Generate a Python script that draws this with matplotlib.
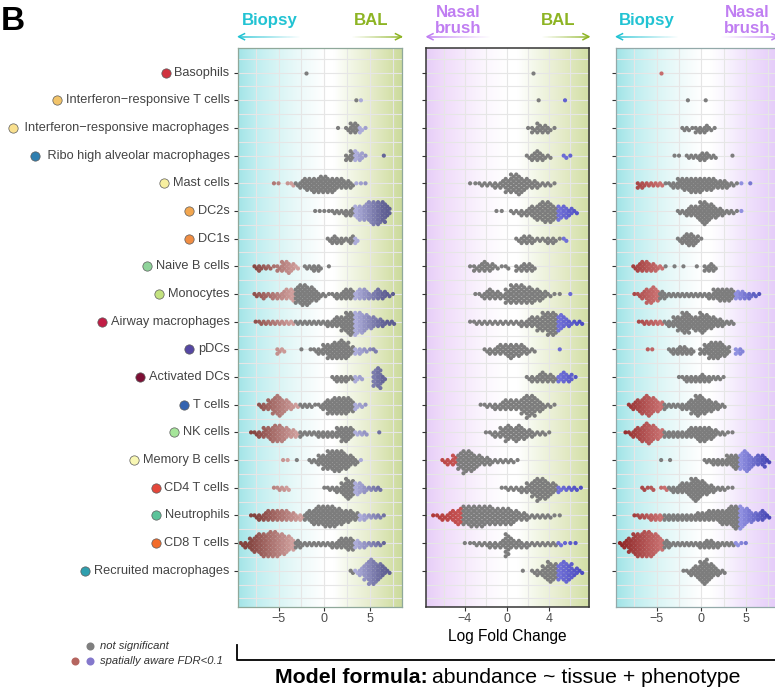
import matplotlib
matplotlib.use("Agg")
import matplotlib.pyplot as plt
import numpy as np
from matplotlib.collections import LineCollection
from matplotlib.lines import Line2D
from matplotlib.transforms import Affine2D, blended_transform_factory
from matplotlib.colors import to_rgb

plt.rcParams['font.family'] = ['Liberation Sans', 'DejaVu Sans']

W, H = 775, 688
BIN = 0.5  # width of a logFC bin; counts below are neighbourhoods per bin

cell_types = [
    "Basophils", "Interferon\u2212responsive T cells", " Interferon\u2212responsive macrophages",
    " Ribo high alveolar macrophages", "Mast cells", "DC2s", "DC1s", "Naive B cells",
    "Monocytes", "Airway macrophages", "pDCs", "Activated DCs", "T cells", "NK cells",
    "Memory B cells", "CD4 T cells", "Neutrophils", "CD8 T cells", "Recruited macrophages",
]
cell_colours = [
    "#d0323f", "#f2c46a", "#f9e08f", "#2f7fb0", "#f7efa0", "#f2a64f", "#f08d43", "#8fd39a",
    "#c3e27f", "#c11d45", "#5547a3", "#7d0f35", "#3564b0", "#a6e59a", "#f8f7b4", "#e4473a",
    "#5cc39a", "#f26b2a", "#2f9fae",
]

# (centre of first bin, neighbourhood counts per bin) for each cell type
biopsy_vs_bal = [
    (-2.0, [1]),
    (3.5, [1, 1]),
    (1.5, [1, 0, 2, 5, 5, 3, 1]),
    (2.5, [3, 5, 5, 4, 1, 0, 0, 0, 1]),
    (-5.5, [1, 1, 0, 1, 2, 2, 4, 6, 6, 7, 8, 8, 7, 7, 5, 5, 4, 3, 1, 1, 1]),
    (-1.0, [1, 1, 1, 1, 2, 2, 2, 3, 4, 6, 7, 8, 10, 11, 11, 10, 5]),
    (0.5, [2, 4, 3, 3, 2, 4, 3]),
    (-7.5, [2, 3, 2, 2, 1, 3, 5, 6, 4, 2, 0, 2, 2, 3, 3, 0, 1]),
    (-7.5, [2, 2, 3, 2, 3, 3, 4, 5, 6, 8, 10, 10, 8, 6, 3, 2, 1, 2, 3, 4, 5, 5, 4, 5, 5, 3, 4, 5, 4, 2, 1]),
    (-7.5, [1, 2, 2, 2, 2, 2, 2, 2, 2, 2, 2, 2, 2, 2, 2, 2, 3, 4, 5, 7, 10, 11, 11, 10, 8, 6, 5, 4, 3, 2, 2]),
    (-5.0, [3, 2, 0, 0, 0, 1, 0, 1, 2, 3, 5, 7, 8, 8, 9, 8, 4, 3, 3, 2, 1, 2]),
    (1.0, [2, 3, 3, 3, 2, 3, 2, 0, 0, 8, 10, 3]),
    (-7.0, [2, 3, 5, 8, 10, 7, 5, 3, 2, 2, 2, 2, 1, 2, 4, 7, 8, 8, 8, 8, 6, 3, 2, 1]),
    (-8.0, [1, 2, 3, 5, 6, 8, 8, 7, 5, 4, 3, 3, 2, 2, 2, 3, 3, 3, 3, 5, 7, 7, 5, 2, 2, 2, 0, 0, 1]),
    (-4.5, [1, 1, 0, 1, 0, 0, 2, 2, 5, 7, 9, 10, 10, 9, 7, 5, 3, 1]),
    (-5.5, [1, 2, 2, 2, 0, 0, 0, 0, 0, 0, 0, 1, 2, 2, 3, 6, 10, 8, 6, 5, 3, 2, 2, 2]),
    (-8.0, [1, 2, 3, 4, 5, 5, 5, 5, 5, 4, 3, 3, 4, 6, 8, 9, 10, 10, 10, 8, 7, 6, 5, 4, 3, 3, 2, 2, 2, 1]),
    (-9.0, [2, 3, 6, 8, 10, 11, 12, 12, 11, 10, 8, 6, 4, 3, 2, 2, 2, 2, 2, 2, 3, 4, 5, 6, 6, 4, 3, 3, 2, 2, 2, 1]),
    (3.0, [2, 2, 4, 8, 12, 11, 8, 5, 2]),
]
nasal_vs_bal = [
    (2.5, [1]),
    (3.0, [1, 0, 0, 0, 0, 1]),
    (2.0, [1, 3, 5, 4, 3, 1]),
    (2.0, [2, 4, 5, 3, 2, 0, 0, 2, 1]),
    (-3.5, [1, 1, 2, 2, 2, 3, 4, 7, 9, 10, 7, 5, 4, 3, 2, 2, 1]),
    (-1.0, [1, 1, 0, 2, 2, 3, 4, 6, 8, 10, 10, 7, 7, 6, 4, 2]),
    (1.0, [2, 4, 4, 3, 2, 2, 3, 3, 1, 2]),
    (-3.5, [1, 3, 4, 5, 4, 2, 1, 2, 0, 3, 4, 4, 3]),
    (-3.0, [1, 2, 4, 5, 4, 3, 7, 9, 9, 9, 8, 7, 6, 4, 2, 1, 1, 0, 1]),
    (-3.5, [1, 2, 2, 2, 2, 2, 2, 2, 2, 2, 3, 4, 5, 7, 9, 11, 11, 8, 5, 3, 2, 2]),
    (-2.0, [2, 3, 4, 5, 6, 7, 6, 5, 3, 2, 0, 0, 0, 0, 1]),
    (2.0, [2, 3, 4, 5, 4, 3, 4, 5, 4, 1]),
    (-2.5, [1, 2, 2, 3, 4, 5, 5, 5, 8, 11, 10, 6, 3, 2, 1]),
    (-2.0, [1, 2, 3, 5, 8, 6, 8, 6, 4, 3, 2, 2, 1]),
    (-6.0, [2, 3, 5, 8, 11, 10, 7, 5, 4, 3, 2, 2, 2, 2, 1]),
    (-0.5, [1, 2, 2, 2, 3, 5, 8, 11, 10, 7, 5, 3, 2, 2, 2, 1]),
    (-7.0, [1, 2, 3, 4, 6, 8, 9, 10, 10, 10, 9, 9, 8, 8, 8, 7, 5, 4, 3, 2, 2, 2, 2, 1, 1]),
    (-4.0, [1, 1, 2, 2, 2, 3, 3, 4, 11, 5, 4, 3, 3, 2, 2, 2, 2, 2, 2, 1, 1, 1]),
    (1.5, [1, 0, 2, 3, 6, 10, 8, 8, 10, 8, 4, 2]),
]
biopsy_vs_nasal = [
    (-4.5, [1]),
    (-1.5, [1, 0, 0, 0, 1]),
    (-2.0, [2, 2, 1, 3, 3, 4, 2, 1]),
    (-3.0, [1, 1, 0, 2, 2, 2, 4, 4, 2, 2, 0, 0, 0, 1]),
    (-7.0, [3, 3, 2, 2, 2, 2, 1, 2, 3, 5, 6, 6, 7, 7, 7, 6, 6, 5, 4, 4, 3, 2, 1, 1, 0, 1]),
    (-2.5, [2, 2, 4, 5, 6, 10, 11, 8, 6, 4, 3, 2, 2, 1, 1]),
    (-2.5, [2, 4, 6, 6, 4, 1]),
    (-7.5, [2, 4, 5, 5, 4, 3, 2, 1, 0, 1, 0, 1, 0, 0, 1, 0, 3, 4, 3]),
    (-7.5, [1, 2, 4, 7, 8, 6, 4, 3, 2, 2, 2, 2, 2, 2, 2, 2, 2, 3, 5, 6, 6, 6, 5, 4, 4, 3, 3, 2, 1]),
    (-7.0, [1, 2, 2, 2, 2, 2, 2, 3, 5, 7, 10, 10, 6, 7, 10, 8, 6, 5, 4, 3, 2, 2]),
    (-6.0, [1, 1, 0, 0, 0, 2, 3, 4, 4, 3, 3, 0, 3, 5, 8, 8, 8, 6, 4, 0, 3, 3]),
    (-2.5, [1, 2, 3, 3, 3, 4, 3, 3, 2, 2, 1]),
    (-8.0, [2, 4, 6, 8, 10, 8, 6, 4, 3, 2, 2, 2, 3, 4, 7, 10, 9, 7, 6, 4, 3, 2]),
    (-8.5, [1, 2, 4, 6, 8, 10, 8, 6, 4, 3, 3, 3, 3, 3, 4, 5, 6, 7, 7, 6, 4, 2, 2, 1, 1]),
    (-4.5, [1, 0, 1, 0, 0, 0, 0, 0, 0, 0, 2, 2, 3, 3, 3, 5, 6, 7, 8, 10, 7, 4, 5, 6, 2]),
    (-6.5, [2, 1, 2, 0, 1, 2, 2, 3, 4, 5, 6, 10, 11, 8, 6, 4, 3, 2, 2, 1, 1]),
    (-7.5, [1, 2, 2, 2, 3, 3, 3, 3, 3, 3, 3, 3, 3, 3, 4, 4, 4, 5, 5, 6, 7, 8, 10, 11, 11, 8, 6, 4, 4, 5, 2]),
    (-9.0, [2, 4, 7, 10, 11, 12, 12, 11, 9, 6, 4, 3, 2, 2, 2, 2, 2, 2, 3, 4, 4, 3, 3, 2, 2, 2, 2, 1, 1]),
    (-2.0, [1, 2, 4, 6, 10, 12, 8, 5, 3, 2]),
]

# logFC cut-offs beyond which neighbourhoods are significant (None = none significant)
biopsy_vs_bal_low = [None, None, None, None, -3.25, None, None, -2.75, -3.25, -3.25, -4.0, None,
                     -2.75, -2.75, -3.75, -3.75, -2.25, -3.25, None]
biopsy_vs_bal_high = [None, 3.75, 3.75, 3.25, 3.25, 3.25, 3.25, None, 3.25, 3.25, 3.25, 3.25,
                      3.25, 3.25, 3.75, 3.25, 3.75, 3.25, 3.25]
nasal_vs_bal_low = [None] * 14 + [-4.75, None, -4.25, None, None]
nasal_vs_bal_high = [None, 4.5, None, 5.0, None, 4.75, 5.25, None, 5.5, 4.75, 4.5, 4.75,
                     None, None, None, 4.75, None, 4.75, 4.75]
biopsy_vs_nasal_low = [-4.0, None, None, None, -4.25, None, None, -4.25, -4.75, -4.25, -4.5, None,
                       -4.25, -4.25, None, -3.75, -4.25, -4.25, None]
biopsy_vs_nasal_high = [None, None, None, None, 4.25, 4.25, None, None, 3.75, None, 3.75, None,
                        None, None, 4.25, None, 4.25, 3.75, None]

fig = plt.figure(figsize=(W / 100, H / 100), dpi=100)
px = Affine2D().scale(1.0 / W, -1.0 / H).translate(0, 1) + fig.transFigure

TOP, BOTTOM = 48.0, 606.7
YLIM = (19.3, -0.89)
row_px = (BOTTOM - TOP) / (YLIM[0] - YLIM[1])
DOT_STEP = 4.4 / row_px
GREY = "#7d7d7d"

CYAN_STOPS = [(-9.7, (159, 227, 230)), (-7.5, (192, 238, 240)), (-5.0, (218, 245, 245)),
              (-2.5, (238, 250, 250)), (0.0, (255, 255, 255))]
GREEN_TAIL = [(1.0, (255, 255, 255)), (2.5, (244, 248, 234)), (5.0, (230, 236, 204)),
              (7.5, (212, 224, 168)), (9.0, (198, 214, 150))]
PURPLE_HEAD = [(-7.8, (230, 205, 247)), (-6.0, (240, 220, 250)), (-4.0, (246, 234, 252)),
               (-2.0, (252, 247, 254)), (0.0, (255, 255, 255))]
PURPLE_TAIL = [(1.0, (255, 255, 255)), (2.5, (250, 246, 254)), (5.0, (240, 226, 252)),
               (7.5, (232, 210, 250)), (9.0, (226, 200, 248))]

panels = [
    dict(data=biopsy_vs_bal, low=biopsy_vs_bal_low, high=biopsy_vs_bal_high,
         box=(237.5, 401.5), xlim=(-9.48, 8.43), ticks=[-5, 0, 5],
         grid=[-7.5, -5, -2.5, 0, 2.5, 5, 7.5], bg=CYAN_STOPS + GREEN_TAIL, spine="#8fa89a",
         neg=("#d3a3a1", "#84443f"), pos=("#b2b2de", "#5e5e92")),
    dict(data=nasal_vs_bal, low=nasal_vs_bal_low, high=nasal_vs_bal_high,
         box=(426.0, 589.3), xlim=(-7.68, 7.8), ticks=[-4, 0, 4],
         grid=[-6, -4, -2, 0, 2, 4, 6], bg=PURPLE_HEAD + GREEN_TAIL, spine="#353535",
         neg=("#c75555", "#9c2222"), pos=("#7474da", "#3535b2")),
    dict(data=biopsy_vs_nasal, low=biopsy_vs_nasal_low, high=biopsy_vs_nasal_high,
         box=(615.7, 779.7), xlim=(-9.6, 8.8), ticks=[-5, 0, 5],
         grid=[-7.5, -5, -2.5, 0, 2.5, 5, 7.5], bg=CYAN_STOPS + PURPLE_TAIL, spine="#93a9a9",
         neg=("#cc7474", "#8c2424"), pos=("#9696e4", "#4343b2")),
]


def mix(c1, c2, t):
    a, b = np.array(to_rgb(c1)), np.array(to_rgb(c2))
    return tuple(a + (b - a) * t)


def point_colour(v, lo, hi, p):
    if lo is not None and v < lo:
        return mix(p["neg"][0], p["neg"][1], min(1.0, (lo - v) / 5.0))
    if hi is not None and v > hi:
        return mix(p["pos"][0], p["pos"][1], min(1.0, (v - hi) / 3.5))
    return GREY


def swarm(start, counts, row):
    """Hex-packed layout of each bin's points around the row centre line."""
    xs, ys, vs = [], [], []
    for b, n in enumerate(counts):
        c = start + b * BIN
        for j in range(n):
            if n == 1:
                dx, lev = 0.0, 0.0
            else:
                k = j // 2
                if j % 2 == 0:
                    dx = -BIN / 4
                    lev = ((k + 1) // 2) * (1 if k % 2 else -1)
                else:
                    dx = BIN / 4
                    lev = (k // 2 + 0.5) * (1 if k % 2 == 0 else -1)
            xs.append(c + dx)
            ys.append(row + lev * DOT_STEP)
            vs.append(c)
    return xs, ys, vs


axes = []
for p in panels:
    x0, x1 = p["box"]
    ax = fig.add_axes([x0 / W, 1 - BOTTOM / H, (x1 - x0) / W, (BOTTOM - TOP) / H])
    axes.append(ax)
    grid_x = np.linspace(p["xlim"][0], p["xlim"][1], 400)
    stops_x = [s[0] for s in p["bg"]]
    img = np.stack([np.interp(grid_x, stops_x, [s[1][ch] for s in p["bg"]]) for ch in range(3)],
                   axis=-1)[None, :, :] / 255.0
    ax.imshow(img, extent=(p["xlim"][0], p["xlim"][1], YLIM[0], YLIM[1]), aspect="auto",
              interpolation="bilinear", zorder=0)
    for gx in p["grid"]:
        ax.axvline(gx, color="#e6e6e6", lw=0.8, zorder=1)
    for gy in np.arange(-0.5, 19.01, 0.5):
        ax.axhline(gy, color="#e6e6e6", lw=0.8, zorder=1)
    for i, (start, counts) in enumerate(p["data"]):
        xs, ys, vs = swarm(start, counts, i)
        cols = [point_colour(v, p["low"][i], p["high"][i], p) for v in vs]
        ax.scatter(xs, ys, s=9, c=cols, linewidths=0, zorder=3)
    ax.set_xlim(*p["xlim"])
    ax.set_ylim(*YLIM)
    ax.set_xticks(p["ticks"])
    ax.set_yticks(range(len(cell_types)))
    ax.set_yticklabels([])
    ax.tick_params(axis="both", length=3, width=0.8, color="#333333")
    ax.tick_params(axis="x", labelsize=9, labelcolor="#4d4d4d", pad=1.5)
    for sp in ax.spines.values():
        sp.set_color(p["spine"])
        sp.set_linewidth(1.1 if p["spine"] == "#353535" else 0.9)
        sp.set_zorder(5)

# category labels with their colour key
renderer = fig.canvas.get_renderer()
lab_tr = blended_transform_factory(px, axes[0].transData)
for i, (name, col) in enumerate(zip(cell_types, cell_colours)):
    t = fig.text(229.5, i, name, transform=lab_tr, ha="right", va="center",
                 fontsize=9.2, color="#444444")
    bb = t.get_window_extent(renderer=renderer)
    cx = bb.x0 - 4.0 - 4.7
    fig.add_artist(Line2D([cx], [i], transform=lab_tr, marker="o", markersize=6.7,
                          markerfacecolor=col, markeredgecolor="#5a5a5a", markeredgewidth=0.5,
                          linestyle="none"))


def fading_arrow(x_tip, x_tail, y, colour):
    xs = np.linspace(x_tail, x_tip, 60)
    segs = [[(xs[k], y), (xs[k + 1], y)] for k in range(len(xs) - 1)]
    rgb = to_rgb(colour)
    cols = [(rgb[0], rgb[1], rgb[2], (k + 1) / (len(xs) - 1)) for k in range(len(xs) - 1)]
    fig.add_artist(LineCollection(segs, colors=cols, linewidths=1.1, transform=px))
    d = 1 if x_tail > x_tip else -1
    fig.add_artist(Line2D([x_tip + d * 6, x_tip, x_tip + d * 6], [y - 3, y, y + 3],
                          transform=px, color=colour, lw=1.1))


CYAN, GREEN, PURPLE = "#22c3d3", "#8db423", "#c07ef2"
head_kw = dict(transform=px, fontsize=12.1, fontweight="bold", va="baseline")
fig.text(242, 25, "Biopsy", color=CYAN, ha="left", **head_kw)
fig.text(388.5, 25, "BAL", color=GREEN, ha="right", **head_kw)
fig.text(458, 16.7, "Nasal", color=PURPLE, ha="center", **head_kw)
fig.text(458, 33.0, "brush", color=PURPLE, ha="center", **head_kw)
fig.text(575.5, 25, "BAL", color=GREEN, ha="right", **head_kw)
fig.text(619, 25, "Biopsy", color=CYAN, ha="left", **head_kw)
fig.text(747, 16.7, "Nasal", color=PURPLE, ha="center", **head_kw)
fig.text(747, 33.0, "brush", color=PURPLE, ha="center", **head_kw)

fading_arrow(238.5, 300, 36.7, CYAN)
fading_arrow(401.5, 352, 36.7, GREEN)
fading_arrow(427, 490, 36.7, PURPLE)
fading_arrow(589, 542, 36.7, GREEN)
fading_arrow(616.5, 678, 36.7, CYAN)
fading_arrow(778, 721, 36.7, PURPLE)

# panel letter
fig.text(1, 22, "B", transform=px, ha="left", va="center", fontsize=24, fontweight="bold",
         color="black")

# shared x title
fig.text(507.5, 637, "Log Fold Change", transform=px, ha="center", va="center",
         fontsize=11.2, color="black")

# significance key
fig.add_artist(Line2D([90], [646], transform=px, marker="o", markersize=5.8,
                      markerfacecolor="#7f7f7f", markeredgewidth=0, linestyle="none"))
fig.add_artist(Line2D([75], [661], transform=px, marker="o", markersize=5.8,
                      markerfacecolor="#b5655f", markeredgewidth=0, linestyle="none"))
fig.add_artist(Line2D([90], [661], transform=px, marker="o", markersize=5.8,
                      markerfacecolor="#8478cc", markeredgewidth=0, linestyle="none"))
fig.text(100, 646, "not significant", transform=px, ha="left", va="center", fontsize=8.1,
         style="italic", color="#333333")
fig.text(100, 661, "spatially aware FDR<0.1", transform=px, ha="left", va="center",
         fontsize=8.1, style="italic", color="#333333")

# model bracket and formula
fig.add_artist(Line2D([236.5, 236.5, 780], [645, 660, 660], transform=px, color="black", lw=1.3))
t1 = fig.text(275, 683, "Model formula:", transform=px, ha="left", va="baseline",
              fontsize=15.3, fontweight="bold", color="black")
bb = t1.get_window_extent(renderer=renderer)
fig.text(bb.x1 + 4.5, 683, "abundance ~ tissue + phenotype", transform=px, ha="left",
         va="baseline", fontsize=15.3, color="black")

fig.savefig("out.png", dpi=100)
